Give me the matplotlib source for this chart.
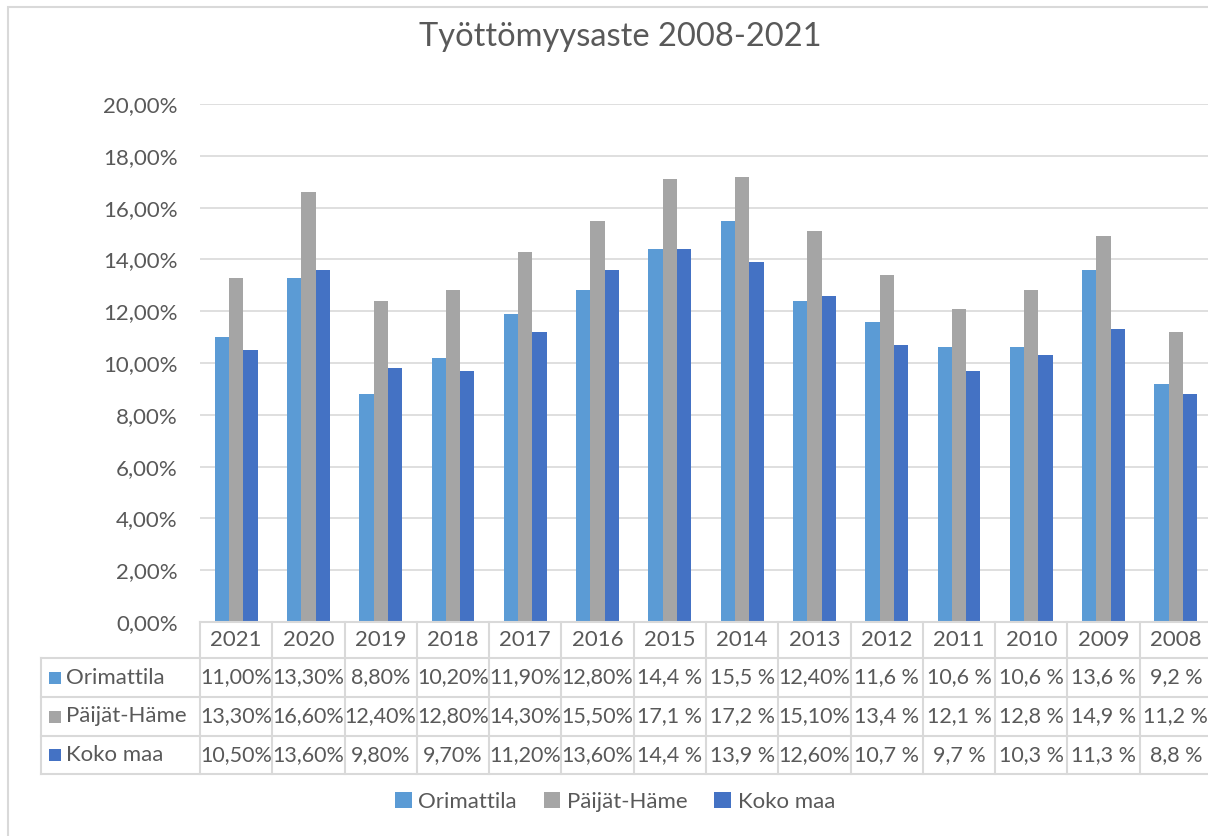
import numpy as np
import matplotlib
matplotlib.use("Agg")
import matplotlib.pyplot as plt
from matplotlib.patches import Patch, Rectangle
from matplotlib.lines import Line2D
import matplotlib.transforms as mtransforms

plt.rcParams["font.family"] = ["Lato", "DejaVu Sans"]

# ── Data ─────────────────────────────────────────────────────────────────────
years = ["2021", "2020", "2019", "2018", "2017", "2016", "2015",
         "2014", "2013", "2012", "2011", "2010", "2009", "2008"]
series_names = ["Orimattila", "Päijät-Häme", "Koko maa"]

orimattila = [11.0, 13.3, 8.8, 10.2, 11.9, 12.8, 14.4, 15.5, 12.4, 11.6, 10.6, 10.6, 13.6, 9.2]
paijat_hame = [13.3, 16.6, 12.4, 12.8, 14.3, 15.5, 17.1, 17.2, 15.1, 13.4, 12.1, 12.8, 14.9, 11.2]
koko_maa = [10.5, 13.6, 9.8, 9.7, 11.2, 13.6, 14.4, 13.9, 12.6, 10.7, 9.7, 10.3, 11.3, 8.8]

# table text exactly as shown in the source table
orimattila_lbl = ["11,00%", "13,30%", "8,80%", "10,20%", "11,90%", "12,80%", "14,4 %",
                  "15,5 %", "12,40%", "11,6 %", "10,6 %", "10,6 %", "13,6 %", "9,2 %"]
paijat_hame_lbl = ["13,30%", "16,60%", "12,40%", "12,80%", "14,30%", "15,50%", "17,1 %",
                   "17,2 %", "15,10%", "13,4 %", "12,1 %", "12,8 %", "14,9 %", "11,2 %"]
koko_maa_lbl = ["10,50%", "13,60%", "9,80%", "9,70%", "11,20%", "13,60%", "14,4 %",
                "13,9 %", "12,60%", "10,7 %", "9,7 %", "10,3 %", "11,3 %", "8,8 %"]

colors = ["#5B9BD5", "#A5A5A5", "#4472C4"]
GRID = "#D9D9D9"
TXT = "#595959"

W, H = 1208, 836


def fy(py):
    # pixel row (from top) -> figure fraction
    return 1 - py / H


def fx(px):
    return px / W


fig = plt.figure(figsize=(W / 100, H / 100), dpi=100)
fig.patch.set_facecolor("white")

# outer chart border (right/bottom fall outside the crop)
fig.add_artist(Rectangle((fx(8), fy(900)), fx(1300) - fx(8), fy(7) - fy(900),
                         transform=fig.transFigure, fill=False,
                         edgecolor=GRID, linewidth=1.5))

# plot area: runs a little past the right edge of the image like the reference
left_px, right_px = 200, 1212
top_px, bot_px = 104, 622
ax = fig.add_axes([fx(left_px), fy(bot_px), fx(right_px) - fx(left_px),
                   fy(top_px) - fy(bot_px)])

n = len(years)
x = np.arange(n)
bw = 0.198
for i, (vals, c) in enumerate(zip([orimattila, paijat_hame, koko_maa], colors)):
    ax.bar(x + (i - 1) * bw, np.array(vals) / 100, bw, color=c, zorder=3)

ax.set_xlim(-0.5, n - 0.5)
ax.set_ylim(0, 0.20)
yt = np.arange(0, 0.201, 0.02)
ax.set_yticks(yt)
ax.set_yticklabels([f"{v*100:.2f}%".replace(".", ",") for v in yt],
                   fontsize=16, color=TXT)
ax.tick_params(axis="y", length=0, pad=16)
ax.set_xticks([])
ax.grid(axis="y", color=GRID, linewidth=1.2, zorder=0)
for s in ax.spines.values():
    s.set_visible(False)

# ── Data table under the plot ────────────────────────────────────────────────
trans = mtransforms.blended_transform_factory(ax.transData, fig.transFigure)
row_px = [622, 658, 697, 736, 774]
tbl_left = 41

def hline(py, x0_px):
    fig.add_artist(Line2D([fx(x0_px), fx(1300)], [fy(py), fy(py)],
                          transform=fig.transFigure, color=GRID, linewidth=1.5))

def vline(xdata, py0, py1):
    fig.add_artist(Line2D([xdata, xdata], [fy(py0), fy(py1)],
                          transform=trans, color=GRID, linewidth=1.5))

hline(row_px[0], left_px)
for py in row_px[1:]:
    hline(py, tbl_left)
for b in np.arange(-0.5, n, 1.0):
    vline(b, row_px[0], row_px[-1])
fig.add_artist(Line2D([fx(tbl_left)] * 2, [fy(row_px[1]), fy(row_px[-1])],
                      transform=fig.transFigure, color=GRID, linewidth=1.5))

# header: years
for xi, yr in zip(x, years):
    fig.text(xi, fy((row_px[0] + row_px[1]) / 2), yr, transform=trans,
             ha="center", va="center", fontsize=16, color=TXT)

rows = [orimattila_lbl, paijat_hame_lbl, koko_maa_lbl]
for r, (name, c, lbls) in enumerate(zip(series_names, colors, rows)):
    ymid = fy((row_px[r + 1] + row_px[r + 2]) / 2)
    fig.add_artist(Rectangle((fx(49), ymid - 6 / H), 12 / W, 12 / H,
                             transform=fig.transFigure, facecolor=c,
                             edgecolor="none"))
    fig.text(fx(66), ymid, name, ha="left", va="center",
             fontsize=16, color=TXT)
    for xi, t in zip(x, lbls):
        fig.text(xi, ymid, t, transform=trans, ha="center", va="center",
                 fontsize=15.5, color=TXT)

# title
fig.text(fx(620), fy(46), "Työttömyysaste 2008-2021", ha="center",
         va="baseline", fontsize=23.5, color=TXT)

# legend
handles = [Patch(facecolor=c, edgecolor="none") for c in colors]
fig.legend(handles, series_names, loc="center", ncol=3,
           bbox_to_anchor=(fx(615), fy(802)), frameon=False,
           fontsize=16, labelcolor=TXT, handlelength=0.75, handleheight=0.75,
           handletextpad=0.3, columnspacing=1.2)

fig.savefig("out.png", dpi=100)
